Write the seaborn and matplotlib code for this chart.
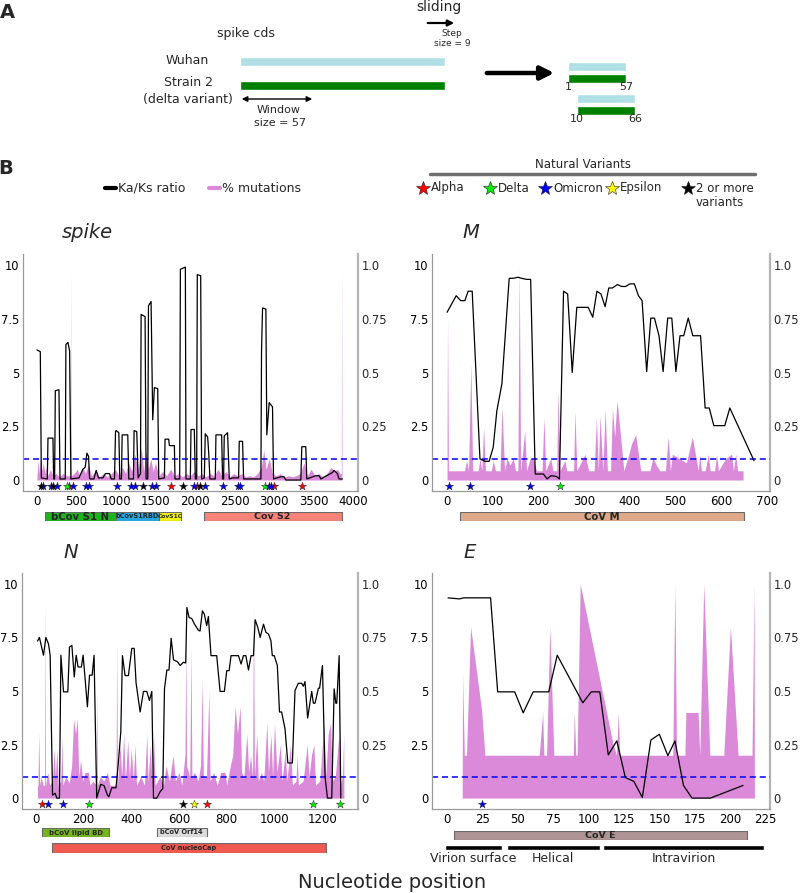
import numpy as np
import matplotlib.pyplot as plt
import seaborn as sns

sns.set_theme(style="white")
plt.rcParams['font.family'] = ['DejaVu Sans']

# ---------------- data ----------------
# Ka/Ks ratio along each gene: (window position, Ka/Ks)
spike_kaks = [(0, 6.05), (42, 5.97), (55, 0.1), (131, 0.05), (139, 1.95), (202, 1.95), (211, 0.05),
              (223, 0.05), (232, 4.15), (278, 4.2), (291, 0.05), (358, 0.05), (366, 6.3), (392, 6.4),
              (413, 6.0), (429, 0.05), (531, 0.1), (581, 0.5), (611, 0.6), (632, 1.25), (653, 1.1),
              (665, 0.1), (674, 0.05), (720, 0.05), (749, 0.45), (779, 0.1), (834, 0.1), (867, 0.3),
              (918, 0.3), (939, 0.05), (981, 0.05), (994, 2.25), (1002, 2.3), (1036, 2.2), (1048, 0.05),
              (1069, 0.05), (1078, 2.1), (1149, 2.1), (1162, 0.05), (1221, 0.05), (1229, 2.3), (1263, 2.25),
              (1280, 0.1), (1310, 0.3), (1318, 7.7), (1368, 7.6), (1381, 0.05), (1402, 0.05), (1411, 8.1),
              (1444, 8.3), (1465, 2.8), (1486, 4.3), (1528, 4.25), (1541, 0.05), (1613, 0.1), (1621, 1.9),
              (1667, 1.9), (1676, 1.6), (1739, 1.6), (1747, 0.05), (1806, 0.05), (1815, 9.8), (1878, 9.9),
              (1886, 0.05), (1941, 0.05), (1949, 2.35), (1991, 2.35), (2004, 0.05), (2021, 0.05),
              (2029, 9.55), (2072, 9.5), (2084, 0.05), (2118, 0.1), (2130, 2.15), (2160, 2.0), (2173, 1.3),
              (2189, 0.05), (2257, 0.05), (2265, 2.1), (2337, 2.1), (2349, 0.05), (2362, 0.05), (2370, 2.05),
              (2412, 2.2), (2434, 0.05), (2476, 0.1), (2552, 0.1), (2560, 1.8), (2602, 1.8), (2615, 0.05),
              (2834, 0.05), (2842, 6.0), (2855, 8.0), (2897, 7.95), (2909, 2.1), (2939, 3.6), (2981, 3.4),
              (2994, 0.05), (3086, 0.15), (3128, 0.15), (3149, 0.0), (3339, 0.0), (3352, 1.55), (3402, 1.55),
              (3415, 0.05), (3528, 0.2), (3571, 0.2), (3592, 0.05), (3739, 0.35), (3760, 0.45), (3802, 0.3),
              (3823, 0.05), (3865, 0.05)]

M_kaks = [(0, 7.8), (20, 8.57), (30, 8.34), (39, 8.34), (46, 8.78), (55, 8.78), (72, 0.98), (83, 0.87),
          (92, 0.87), (101, 1.52), (109, 3.22), (120, 4.47), (136, 9.38), (145, 9.38), (155, 9.43),
          (163, 9.38), (174, 9.33), (183, 9.33), (193, 0.28), (211, 0.28), (219, 0.05), (227, 0.2),
          (239, 0.17), (246, 0.05), (255, 8.78), (264, 8.65), (274, 5.0), (284, 8.03), (309, 8.03),
          (319, 7.57), (328, 8.78), (337, 8.65), (346, 8.06), (354, 8.93), (362, 8.93), (373, 9.09),
          (382, 9.0), (391, 9.0), (400, 9.12), (410, 9.12), (419, 8.57), (427, 8.34), (437, 5.04),
          (446, 7.53), (454, 7.53), (464, 6.71), (473, 5.04), (483, 7.53), (492, 7.53), (501, 5.04),
          (510, 6.71), (518, 6.71), (528, 7.53), (538, 6.71), (555, 6.71), (565, 3.35), (574, 3.35),
          (584, 2.53), (608, 2.53), (619, 3.35), (672, 0.9)]

N_kaks = [(7, 7.33), (15, 7.5), (32, 6.67), (42, 7.5), (53, 7.2), (60, 6.67), (70, 0.14), (81, 0.22),
          (88, 0.0), (99, 0.0), (105, 6.67), (116, 4.96), (134, 4.96), (141, 7.05), (151, 7.13), (161, 5.66),
          (169, 6.67), (177, 6.12), (191, 6.12), (198, 6.67), (207, 5.5), (216, 4.26), (225, 5.74),
          (236, 5.74), (244, 6.67), (255, 0.0), (272, 0.64), (286, 0.58), (300, 0.14), (306, 0.06),
          (318, 0.48), (336, 0.48), (346, 1.69), (356, 3.09), (363, 6.65), (374, 5.72), (388, 5.72),
          (402, 6.99), (412, 6.99), (420, 5.38), (437, 4.02), (451, 4.98), (465, 4.98), (476, 4.56),
          (486, 4.98), (493, 0.0), (507, 0.0), (521, 0.3), (532, 0.45), (539, 5.1), (549, 5.98),
          (558, 5.98), (567, 7.46), (577, 6.45), (593, 6.37), (605, 6.19), (618, 6.34), (628, 6.31),
          (633, 8.9), (642, 8.43), (653, 8.39), (665, 8.12), (681, 7.84), (688, 7.8), (698, 8.74),
          (706, 8.59), (716, 8.05), (723, 8.48), (734, 6.65), (758, 6.65), (772, 4.98), (790, 4.98),
          (800, 5.95), (810, 5.95), (818, 6.65), (849, 6.65), (860, 6.26), (870, 6.65), (880, 6.65),
          (891, 5.98), (902, 6.65), (912, 6.65), (919, 8.33), (930, 7.97), (940, 7.5), (954, 8.12),
          (964, 7.74), (975, 7.66), (985, 7.35), (991, 6.65), (999, 6.65), (1012, 6.19), (1021, 4.02),
          (1030, 4.02), (1044, 3.24), (1056, 1.64), (1075, 1.64), (1086, 5.02), (1100, 5.36),
          (1114, 5.36), (1121, 5.22), (1128, 5.44), (1139, 3.74), (1156, 4.98), (1163, 4.43),
          (1170, 4.43), (1184, 5.13), (1189, 5.13), (1201, 6.19), (1212, 0.99), (1222, 0.0),
          (1240, 0.0), (1250, 5.1), (1257, 4.43), (1261, 4.43), (1271, 6.65), (1278, 0.0)]

E_kaks = [(1, 9.35), (9, 9.3), (12, 9.35), (31, 9.35), (36, 4.96), (48, 4.96), (54, 3.98), (61, 4.96),
          (72, 4.96), (78, 6.67), (96, 4.45), (102, 4.96), (108, 4.96), (114, 2.02), (120, 2.67),
          (126, 0.96), (132, 0.78), (138, 0.03), (144, 2.71), (150, 2.98), (156, 1.98), (161, 2.67),
          (167, 0.59), (173, 0.0), (186, 0.0), (209, 0.59)]

# % mutations (right axis, fraction): (window position, value)
spike_mut = [(0, 0.02), (15, 0.09), (30, 0.03), (45, 0.11), (60, 0.04), (80, 0.08), (100, 0.03),
             (120, 0.06), (140, 0.02), (170, 0.05), (200, 0.02), (240, 0.03), (280, 0.015), (330, 0.03),
             (380, 0.02), (425, 0.02), (429, 1.0), (433, 0.02), (470, 0.03), (510, 0.05), (540, 0.02),
             (580, 0.06), (610, 0.03), (650, 0.07), (690, 0.02), (740, 0.04), (790, 0.015), (840, 0.03),
             (890, 0.015), (940, 0.03), (990, 0.05), (1040, 0.02), (1080, 0.06), (1120, 0.03),
             (1160, 0.08), (1200, 0.04), (1240, 0.12), (1280, 0.05), (1320, 0.15), (1350, 0.04),
             (1380, 0.13), (1410, 0.05), (1440, 0.1), (1470, 0.04), (1500, 0.08), (1540, 0.02),
             (1590, 0.04), (1640, 0.02), (1690, 0.05), (1740, 0.02), (1790, 0.03), (1840, 0.015),
             (1890, 0.03), (1940, 0.02), (1990, 0.04), (2040, 0.02), (2090, 0.03), (2140, 0.015),
             (2190, 0.03), (2240, 0.02), (2290, 0.05), (2340, 0.02), (2390, 0.04), (2440, 0.015),
             (2490, 0.03), (2540, 0.02), (2590, 0.03), (2640, 0.015), (2690, 0.02), (2740, 0.015),
             (2790, 0.03), (2840, 0.06), (2870, 0.14), (2900, 0.05), (2940, 0.1), (2980, 0.03),
             (3030, 0.02), (3080, 0.03), (3130, 0.015), (3180, 0.02), (3230, 0.015), (3280, 0.02),
             (3330, 0.03), (3380, 0.08), (3420, 0.02), (3470, 0.05), (3520, 0.02), (3570, 0.03),
             (3620, 0.015), (3670, 0.03), (3720, 0.06), (3760, 0.04), (3800, 0.05), (3840, 0.03),
             (3852, 0.03), (3856, 1.0), (3860, 0.02)]

M_mut = [(0, 0.21), (1, 0.76), (3, 0.043), (38, 0.043), (43, 0.09), (47, 0.043), (52, 0.54), (56, 0.043),
         (68, 0.043), (72, 0.1), (76, 0.043), (80, 0.245), (84, 0.043), (97, 0.043), (101, 0.09),
         (106, 0.043), (116, 0.043), (120, 0.34), (126, 0.043), (131, 0.1), (138, 0.07), (145, 0.1),
         (150, 0.043), (155, 0.043), (158, 0.99), (161, 0.043), (164, 0.1), (170, 0.23), (174, 0.043),
         (182, 0.1), (188, 0.1), (196, 0.043), (208, 0.043), (212, 0.29), (216, 0.043), (227, 0.1),
         (232, 0.043), (240, 0.043), (243, 0.42), (247, 0.043), (258, 0.09), (262, 0.043), (277, 0.043),
         (280, 0.32), (284, 0.043), (302, 0.12), (310, 0.043), (322, 0.043), (327, 0.29), (331, 0.043),
         (335, 0.3), (341, 0.043), (346, 0.33), (351, 0.043), (358, 0.043), (362, 0.33), (367, 0.2),
         (372, 0.37), (380, 0.2), (387, 0.043), (398, 0.12), (404, 0.17), (413, 0.21), (424, 0.043),
         (444, 0.043), (451, 0.105), (458, 0.07), (466, 0.043), (478, 0.043), (484, 0.2), (489, 0.043),
         (493, 0.12), (524, 0.08), (537, 0.2), (550, 0.043), (553, 0.12), (557, 0.043), (565, 0.043),
         (572, 0.12), (576, 0.043), (586, 0.043), (590, 0.12), (594, 0.043), (610, 0.1), (623, 0.12),
         (627, 0.043), (632, 0.12), (636, 0.043), (648, 0.043)]

N_mut = [(7, 0.06), (9, 0.06), (12, 0.31), (16, 0.06), (22, 0.1), (30, 0.06), (37, 0.06), (39, 0.93),
         (41, 0.06), (50, 0.12), (58, 0.06), (70, 0.08), (76, 0.23), (82, 0.1), (88, 0.23), (94, 0.06),
         (105, 0.08), (109, 0.29), (113, 0.06), (125, 0.1), (140, 0.07), (150, 0.15), (158, 0.37),
         (166, 0.3), (174, 0.37), (180, 0.1), (188, 0.18), (196, 0.08), (206, 0.12), (220, 0.12),
         (226, 0.06), (240, 0.08), (252, 0.06), (255, 0.48), (258, 0.06), (270, 0.1), (285, 0.08),
         (300, 0.12), (310, 0.06), (336, 0.06), (339, 0.73), (342, 0.06), (353, 0.25), (360, 0.1),
         (368, 0.3), (375, 0.08), (385, 0.27), (392, 0.1), (400, 0.23), (408, 0.08), (416, 0.25),
         (422, 0.06), (440, 0.1), (455, 0.06), (465, 0.3), (470, 0.08), (480, 0.25), (486, 0.08),
         (493, 0.3), (500, 0.06), (520, 0.1), (535, 0.06), (545, 0.15), (560, 0.08), (575, 0.2),
         (585, 0.08), (600, 0.12), (612, 0.06), (625, 0.2), (628, 0.73), (632, 0.15), (645, 0.1),
         (650, 0.7), (654, 0.1), (665, 0.12), (680, 0.08), (690, 0.15), (697, 0.55), (702, 0.1),
         (715, 0.1), (725, 0.5), (730, 0.08), (745, 0.12), (760, 0.06), (775, 0.12), (793, 0.12),
         (800, 0.06), (815, 0.15), (825, 0.2), (835, 0.43), (845, 0.3), (856, 0.43), (862, 0.12),
         (872, 0.1), (884, 0.3), (892, 0.12), (900, 0.2), (908, 0.1), (912, 0.9), (916, 0.1),
         (926, 0.3), (932, 0.08), (945, 0.12), (955, 0.08), (968, 0.35), (975, 0.12), (985, 0.3),
         (992, 0.1), (1000, 0.35), (1010, 0.12), (1025, 0.25), (1032, 0.08), (1045, 0.22),
         (1052, 0.08), (1067, 0.25), (1075, 0.06), (1090, 0.08), (1095, 0.2), (1100, 0.06),
         (1120, 0.08), (1137, 0.25), (1145, 0.1), (1155, 0.2), (1165, 0.25), (1172, 0.06),
         (1190, 0.08), (1207, 0.35), (1215, 0.1), (1225, 0.3), (1235, 0.35), (1242, 0.08),
         (1255, 0.1), (1270, 0.3), (1274, 0.06), (1285, 0.1), (1290, 0.3), (1291, 0.0)]

E_mut = [(11, 0.0), (11.2, 0.58), (12.5, 0.2), (14, 0.2), (16.9, 0.8), (24.7, 0.41), (27, 0.2),
         (65.3, 0.2), (67.7, 0.4), (68.6, 0.2), (70.5, 0.2), (72.8, 0.8), (75.6, 0.2), (89.3, 0.2),
         (90, 0.4), (91.1, 0.2), (92, 0.2), (94.2, 1.0), (117.4, 0.25), (119.8, 0.2), (121, 0.4),
         (122.1, 0.2), (159.5, 0.2), (160.9, 1.0), (162.1, 0.2), (168, 0.2), (168.7, 0.4), (177.3, 0.4),
         (178.5, 0.2), (181.3, 1.0), (185.6, 0.2), (195.4, 0.2), (200.1, 0.8), (205.5, 0.2),
         (215.3, 0.2), (216.8, 1.0), (217.0, 0.0)]

# natural variant sites (nucleotide position)
variants = ['Alpha', 'Delta', 'Omicron', 'Epsilon', '2 or more\nvariants']
variant_colors = ['#ff0000', '#00ee00', '#0000ee', '#ffff00', '#000000']
spike_stars = {'Alpha': [408, 1700, 2023, 3003, 3360],
               'Delta': [375, 2890],
               'Omicron': [80, 173, 249, 458, 618, 656, 1018, 1195, 1245, 1455, 1510, 1985, 2129,
                           2351, 2540, 2570, 2931, 2968],
               'Epsilon': [],
               '2 or more\nvariants': [47, 206, 1341, 1846, 2069]}
M_stars = {'Omicron': [4, 50, 182], 'Delta': [248]}
N_stars = {'Alpha': [25, 716], 'Omicron': [50, 113], 'Delta': [223, 1160, 1275],
           '2 or more\nvariants': [618], 'Epsilon': [663]}
E_stars = {'Omicron': [25]}

# protein domains: name, start, end, colour, font size
spike_domains = [('bCov S1 N', 97, 1002, '#1eb41e', 7.3), ('bCovS1RBD', 1002, 1541, '#25a8e2', 4.8),
                 ('CovS1C', 1541, 1823, '#f2f20a', 4.3), ('Cov S2', 2109, 3856, '#f88379', 6.8)]
M_domains = [('CoV M', 28, 650, '#e0a98a', 7.3)]
N_domains_1 = [('bCoV lipid BD', 26, 307, '#78b41e', 5), ('bCoV Orf14', 507, 716, '#dcdcdc', 4.8)]
N_domains_2 = [('CoV nucleoCap', 68, 1216, '#f05a50', 4.8)]
E_domains = [('CoV E', 5, 212, '#ae9494', 6.8)]
E_topology = [('Virion surface', -1, 39), ('Helical', 42.5, 108), ('Intravirion', 110.6, 224)]

# schematic of panel A
window_size = 57
step_size = 9
window_starts = [1, 1 + step_size]

PINK = '#da8ad9'
W, H = 800, 893
fig = plt.figure(figsize=(8, 8.93), dpi=100)


def px_axes(x0, y0, x1, y1):
    return fig.add_axes([x0 / W, 1 - y1 / H, (x1 - x0) / W, (y1 - y0) / H])


# overlay in pixel coordinates for annotations
ax_a = fig.add_axes([0, 0, 1, 1])
ax_a.set_xlim(0, W)
ax_a.set_ylim(H, 0)
ax_a.axis('off')


def panel(rect, xlim, xticks, kaks, mut, stars, title, title_xy):
    ax = px_axes(*rect)
    ax2 = ax.twinx()
    ax.set_zorder(ax2.get_zorder() + 1)
    ax.patch.set_visible(False)
    mx, my = zip(*mut)
    ax2.fill_between(mx, 0, my, color=PINK, lw=0)
    ax.axhline(1, color='#0000ff', ls=(0, (4, 2.5)), lw=1.1, zorder=1)
    kx, ky = zip(*kaks)
    sns.lineplot(x=list(kx), y=list(ky), ax=ax, color='black', lw=0.9, sort=False, estimator=None)
    for name, col in zip(variants, variant_colors):
        xs = stars.get(name, [])
        if xs:
            sns.scatterplot(x=xs, y=[-0.27] * len(xs), ax=ax, marker='*', s=38, color=col,
                            edgecolor='#222', linewidth=0.3, zorder=5, legend=False)
    ax.set_xlim(xlim)
    ax.set_ylim(-0.51, 10.51)
    ax2.set_ylim(-0.051, 1.051)
    ax.set_xticks(xticks)
    ax.set_xticklabels([str(t) for t in xticks])
    ax.set_yticks([0, 2.5, 5, 7.5, 10])
    ax.set_yticklabels(['0', '2.5', '5', '7.5', '10'])
    ax2.set_yticks([0, 0.25, 0.5, 0.75, 1.0])
    ax2.set_yticklabels(['0', '0.25', '0.5', '0.75', '1.0'])
    ax.set_xlabel('')
    ax.set_ylabel('')
    for s in ['top', 'right']:
        ax.spines[s].set_visible(False)
    for s in ['left', 'bottom']:
        ax.spines[s].set_color('#9a9a9a')
        ax.spines[s].set_linewidth(0.9)
    for s in ['top', 'left', 'bottom']:
        ax2.spines[s].set_visible(False)
    ax2.spines['right'].set_color('#b4b4b4')
    ax2.spines['right'].set_linewidth(1.6)
    ax.tick_params(axis='x', bottom=True, length=0, labelsize=8.5, pad=3, labelcolor='black')
    ax.tick_params(axis='y', left=True, length=0, labelsize=8.3, pad=2.6, labelcolor='black')
    ax2.tick_params(axis='y', right=True, length=0, labelsize=8.3, pad=2.6)
    ax_a.text(title_xy[0], title_xy[1], title, fontsize=14, style='italic', ha='left', va='center')
    return ax


def domains(rect, xlim, doms):
    axd = px_axes(*rect)
    axd.barh(0, [d[2] - d[1] for d in doms], left=[d[1] for d in doms], height=1,
             color=[d[3] for d in doms], edgecolor='#6a6a6a', lw=0.8)
    for name, s, e, c, fs in doms:
        axd.text((s + e) / 2, 0, name, ha='center', va='center', fontsize=fs, fontweight='bold')
    axd.set_xlim(xlim)
    axd.set_ylim(-0.5, 0.5)
    axd.axis('off')
    return axd


spike_lim = (-177, 4063)
M_lim = (-33, 707)
N_lim = (-58, 1350)
E_lim = (-10.3, 228)

panel((23, 254, 358, 491), spike_lim, list(range(0, 4001, 500)), spike_kaks, spike_mut,
      spike_stars, 'spike', (62, 233))
panel((432, 254, 770, 491), M_lim, list(range(0, 701, 100)), M_kaks, M_mut, M_stars, 'M', (462, 233))
panel((22, 573, 358, 809), N_lim, list(range(0, 1201, 200)), N_kaks, N_mut, N_stars, 'N', (63, 553))
panel((432, 573, 770, 809), E_lim, list(range(0, 226, 25)), E_kaks, E_mut, E_stars, 'E', (463, 553))

domains((23, 512, 358, 521), spike_lim, spike_domains)
domains((432, 512, 770, 521), M_lim, M_domains)
domains((22, 828, 358, 837), N_lim, N_domains_1)
domains((22, 843, 358, 853), N_lim, N_domains_2)
domains((432, 831, 770, 840), E_lim, E_domains)

ax_t = px_axes(432, 845, 770, 850)
ax_t.barh(0, [e - s for n, s, e in E_topology], left=[s for n, s, e in E_topology], height=1, color='black')
for n, s, e in E_topology:
    ax_t.text((s + e) / 2, -2.3, n, ha='center', va='center', fontsize=9)
ax_t.set_xlim(E_lim)
ax_t.set_ylim(-0.5, 0.5)
ax_t.axis('off')

ax_a.text(392, 882, 'Nucleotide position', fontsize=14, ha='center', va='center')

# ---------------- panel A schematic ----------------
ax_a.text(7, 12, 'A', fontsize=14, fontweight='bold', ha='center', va='center')
ax_a.text(246, 33, 'spike cds', fontsize=9, ha='center', va='center')
ax_a.text(439, 7, 'sliding', fontsize=10, ha='center', va='center')
ax_a.annotate('', xy=(457, 23), xytext=(425, 23),
              arrowprops=dict(arrowstyle='-|>', lw=1.6, color='black', mutation_scale=9))
ax_a.text(452, 33, 'Step', fontsize=6.5, ha='center', va='center')
ax_a.text(452, 44, 'size = %d' % step_size, fontsize=6.5, ha='center', va='center')
ax_a.text(187, 61, 'Wuhan', fontsize=9, ha='center', va='center')
ax_a.text(188, 83, 'Strain 2', fontsize=9, ha='center', va='center')
ax_a.text(188, 99, '(delta variant)', fontsize=9, ha='center', va='center')
ax_a.barh([61.5, 85.5], [205, 205], left=240, height=9, color=['#b0e0e6', '#008000'])
ax_a.annotate('', xy=(315, 99), xytext=(239, 99),
              arrowprops=dict(arrowstyle='<|-|>', lw=1.0, color='black', mutation_scale=8))
ax_a.text(279, 110, 'Window', fontsize=8, ha='center', va='center')
ax_a.text(280, 123, 'size = %d' % window_size, fontsize=8, ha='center', va='center')
ax_a.annotate('', xy=(557, 73), xytext=(484, 73),
              arrowprops=dict(arrowstyle='-|>', lw=3.2, color='black', mutation_scale=20))

# sliding windows drawn in nucleotide units
ax_w = px_axes(555, 55, 645, 125)
scale = 58 / (window_size - 1)
ax_w.set_xlim(1 - 13 / scale, window_size + 19 / scale)
ax_w.set_ylim(125, 55)
ax_w.axis('off')
for i, st in enumerate(window_starts):
    y0 = 66.5 + 32 * i
    ax_w.barh([y0, y0 + 12], window_size - 1, left=st, height=[9, 8.5], color=['#b0e0e6', '#008000'])
    ax_w.text(st, y0 + 21, str(st), fontsize=8, ha='center', va='center')
    ax_w.text(st + window_size - 1, y0 + 21, str(st + window_size - 1), fontsize=8, ha='center', va='center')

# ---------------- legend of panel B ----------------
ax_a.text(6, 168, 'B', fontsize=14, fontweight='bold', ha='center', va='center')
ax_a.plot([105, 116], [188, 188], color='black', lw=3)
ax_a.text(118, 188, 'Ka/Ks ratio', fontsize=9, ha='left', va='center')
ax_a.plot([209, 220], [188, 188], color=PINK, lw=3)
ax_a.text(222, 188, '% mutations', fontsize=9, ha='left', va='center')
ax_a.text(583, 165, 'Natural Variants', fontsize=8.5, ha='center', va='center')
ax_a.plot([430, 755], [174, 174], color='#6e6e6e', lw=2.5)
star_x = [423, 490, 545, 612, 688]
for sx, name, col in zip(star_x, variants, variant_colors):
    ax_a.plot(sx, 188, marker='*', ms=10, color=col, mec='#222', mew=0.4)
    ax_a.text(sx + 8, 181.5, name, fontsize=8.5, ha='left', va='top')

fig.savefig('out.png', dpi=100)
